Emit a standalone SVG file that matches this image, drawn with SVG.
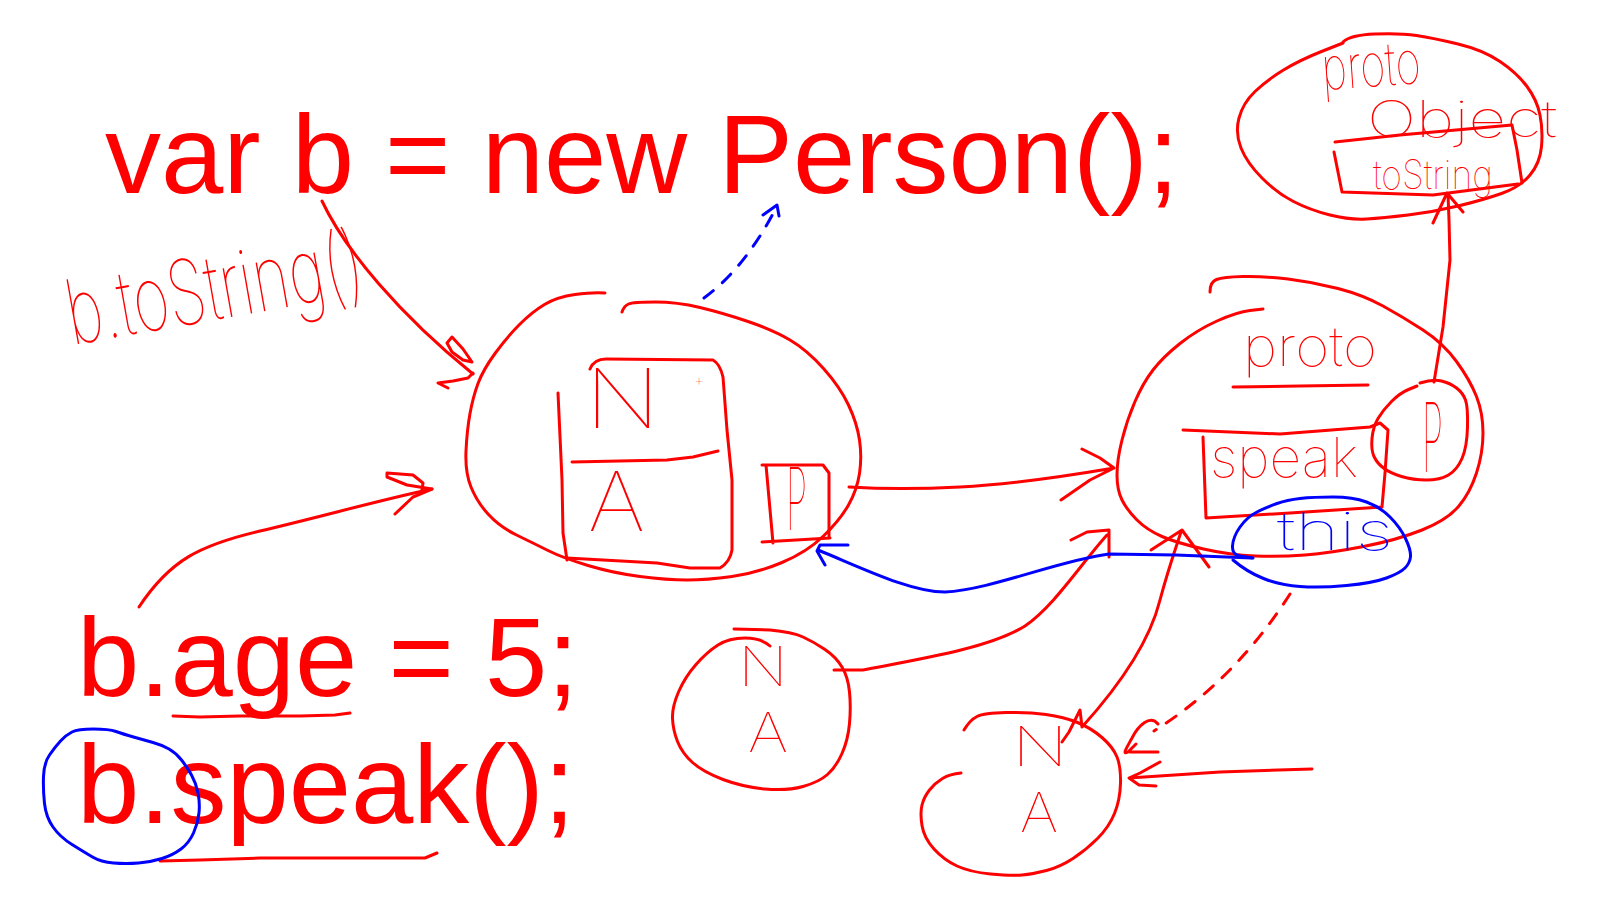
<svg xmlns="http://www.w3.org/2000/svg" width="1600" height="900" viewBox="0 0 1600 900">
<defs>
<style>
.code{font-family:"Liberation Sans",Arial,sans-serif;font-size:112px;fill:#ff0000}
.hw{font-family:Inter,"DejaVu Sans",sans-serif;font-weight:100;fill:#ff0000}
.hwb{fill:#0000ff}
.ink{fill:none;stroke:#ff0000;stroke-width:3;stroke-linecap:round;stroke-linejoin:round}
.bl{stroke:#0000ff}
.dash{stroke-dasharray:12 12}
</style>
</defs>
<rect width="1600" height="900" fill="#ffffff"/>

<g id="code-new">
<text class="code" x="105" y="193">var b = new Person();</text>
</g>
<g id="code-age">
<text class="code" x="77" y="696">b.age = 5;</text>
<path class="ink" d="M173,716 L200,717 L240,716 L300,716 L335,715 L350,713"/>
</g>
<g id="code-speak">
<text class="code" x="77" y="823">b.speak();</text>
<path class="ink" d="M160,861 L200,860 L260,858 L350,858 L425,858 L437,853"/>
<path class="ink bl" d="M93.5,729 Q109,729 116,731.5 Q123,734 133.5,737 Q144,740 153,742.5 Q162,745 169,749 Q176,753 181.5,760 Q187,767 191.5,775 Q196,783 198,793 Q200,803 199,813 Q198,823 193.5,833 Q189,843 181,849 Q173,855 162,858.5 Q151,862 138.5,863 Q126,864 113.5,863 Q101,862 92.5,857 Q84,852 72,844.5 Q60,837 53,827 Q46,817 44.5,803.5 Q43,790 43.5,776.5 Q44,763 49.5,755 Q55,747 60.5,741 Q66,735 72,732 Q78,729 93.5,729"/>
</g>

<g id="note-tostring">
<text class="hw" x="72" y="345" font-size="90" textLength="300" lengthAdjust="spacingAndGlyphs" transform="rotate(-10 72 345)">b.toString()</text>
</g>

<g id="obj-b">
<path class="ink" d="M605,293 Q593,292 575,294.5 Q557,297 544.5,304.5 Q532,312 519.5,324.5 Q507,337 495,353.5 Q483,370 478,383.5 Q473,397 470,413.5 Q467,430 466,451 Q465,472 471,487 Q477,502 488.5,514.5 Q500,527 516.5,535 Q533,543 548,550.5 Q563,558 588,565.5 Q613,573 640,576.5 Q667,580 687,580 Q707,580 732,576.5 Q757,573 782,562.5 Q807,552 823.5,536 Q840,520 848.5,505 Q857,490 859.5,473.5 Q862,457 859.5,440 Q857,423 848.5,405 Q840,387 823.5,368.5 Q807,350 790,340 Q773,330 748,321.5 Q723,313 700,307.5 Q677,302 655,302 Q633,302 628.5,304 Q624,306 622,312"/>
<path class="ink" d="M590,369 Q594,359 606,359 L713,360 Q720,364 723,377 L727,430 L732,480 L732,550 Q730,562 720,568 L690,568 L657,563 L567,558"/>
<path class="ink" d="M558,393 L562,480 L563,533 L567,560"/>
<path class="ink" d="M572,462 L667,460 L693,457 L718,451"/>
<text class="hw" x="585" y="428" font-size="82" textLength="75" lengthAdjust="spacingAndGlyphs">N</text>
<text class="hw" x="588" y="531" font-size="82" textLength="57" lengthAdjust="spacingAndGlyphs">A</text>
<text class="hw" x="699" y="386" font-size="16" text-anchor="middle">+</text>
<path class="ink" d="M762,465 L823,465 L829,473 L829,538 M766,465 L773,543 M762,542 L830,538"/>
<text class="hw" x="786" y="530" font-size="87" textLength="21" lengthAdjust="spacingAndGlyphs">P</text>
</g>

<g id="proto-person">
<path class="ink" d="M1263,309 L1250,310.5 Q1237,312 1217,321 Q1197,330 1180,343.5 Q1163,357 1153,370 Q1143,383 1135,401.5 Q1127,420 1122,440 Q1117,460 1117,475 Q1117,490 1122,500 Q1127,510 1137,520 Q1147,530 1162,536.5 Q1177,543 1203.5,549 Q1230,555 1255,556 Q1280,557 1305,555 Q1330,553 1363.5,546.5 Q1397,540 1422,530 Q1447,520 1458.5,506.5 Q1470,493 1476.5,473 Q1483,453 1483,433 Q1483,413 1476.5,396.5 Q1470,380 1456.5,361.5 Q1443,343 1423,330 Q1403,317 1383,306 Q1363,295 1338,288.5 Q1313,282 1288,279 Q1263,276 1243,276.5 Q1223,277 1216.5,279.5 Q1210,282 1210,292"/>
<text class="hw" x="1243" y="366" font-size="55" textLength="134" lengthAdjust="spacingAndGlyphs">proto</text>
<path class="ink" d="M1233,387 L1300,386 L1368,385"/>
<path class="ink" d="M1183,430 L1280,434 L1370,427 L1380,423 L1388,430 L1385,473 L1382,507 M1203,437 L1206,518 L1290,513 L1382,507"/>
<text class="hw" x="1210" y="477" font-size="55" textLength="148" lengthAdjust="spacingAndGlyphs">speak</text>
<path class="ink" d="M1417,386 L1408.5,389.5 Q1400,393 1391.5,401.5 Q1383,410 1378,418.5 Q1373,427 1372,438.5 Q1371,450 1374,456.5 Q1377,463 1383.5,468 Q1390,473 1401.5,476.5 Q1413,480 1426.5,480 Q1440,480 1448.5,475 Q1457,470 1462,458.5 Q1467,447 1467.5,427 Q1468,407 1465.5,400 Q1463,393 1456.5,388 Q1450,383 1441.5,381 Q1433,379 1420,383"/>
<text class="hw" x="1422" y="472" font-size="96" textLength="21" lengthAdjust="spacingAndGlyphs">P</text>
<path class="ink bl" d="M1253,558 L1240,556 Q1232,555 1232.5,546 Q1233,537 1240,527 Q1247,517 1257,512 Q1267,507 1277,503.5 Q1287,500 1300,498.5 Q1313,497 1333,497 Q1353,497 1366.5,502 Q1380,507 1390,517 Q1400,527 1405.5,538.5 Q1411,550 1410.5,556.5 Q1410,563 1405,568 Q1400,573 1386.5,578 Q1373,583 1346.5,585.5 Q1320,588 1300,586.5 Q1280,585 1263.5,578.5 Q1247,572 1233,560"/>
<text class="hw hwb" x="1277" y="550" font-size="52" textLength="116" lengthAdjust="spacingAndGlyphs">this</text>
</g>

<g id="proto-object">
<path class="ink" d="M1343,42 Q1350,35 1375,34 Q1400,33 1416.5,35.5 Q1433,38 1458,44 Q1483,50 1500,61.5 Q1517,73 1527,86.5 Q1537,100 1540,115 Q1543,130 1541.5,146.5 Q1540,163 1530,175 Q1520,187 1501.5,193.5 Q1483,200 1458,206 Q1433,212 1408,215 Q1383,218 1366.5,219 Q1350,220 1330,215 Q1310,210 1293.5,201.5 Q1277,193 1262,178 Q1247,163 1241,148 Q1235,133 1239,118 Q1243,103 1255,91.5 Q1267,80 1283.5,70 Q1300,60 1321.5,51.5 L1343,43"/>
<text class="hw" x="1323" y="90" font-size="60" textLength="99" lengthAdjust="spacingAndGlyphs" transform="rotate(-4 1323 90)">proto</text>
<text class="hw" x="1367" y="137" font-size="50" textLength="190" lengthAdjust="spacingAndGlyphs">Object</text>
<path class="ink" d="M1335,142 L1400,135 L1512,125 L1517,150 L1522,183 M1334,152 L1342,192 L1433,195 L1518,184"/>
<text class="hw" x="1373" y="189" font-size="40" textLength="120" lengthAdjust="spacingAndGlyphs">toString</text>
</g>

<g id="fn-1">
<path class="ink" d="M734,629 L770,630 Q792,632 803,637 Q814,642 825,649.5 Q836,657 842,667 Q848,677 849.5,692 Q851,707 849.5,723.5 Q848,740 842,753.5 Q836,767 827.5,774.5 Q819,782 803,786.5 Q787,791 765,789 Q743,787 723,779.5 Q703,772 692.5,762.5 Q682,753 677.5,741.5 Q673,730 672.5,718.5 Q672,707 678.5,692 Q685,677 696,664.5 Q707,652 718,645 Q729,638 745,638 Q761,638 770,646"/>
<text class="hw" x="738" y="686" font-size="54" textLength="50" lengthAdjust="spacingAndGlyphs">N</text>
<text class="hw" x="748" y="752" font-size="54" textLength="40" lengthAdjust="spacingAndGlyphs">A</text>
</g>

<g id="fn-2">
<path class="ink" d="M964,730 Q970,720 977,716.5 Q984,713 1006,712.5 Q1028,712 1046,714.5 Q1064,717 1077.5,722.5 Q1091,728 1102,737.5 Q1113,747 1117,757 Q1121,767 1120.5,783.5 Q1120,800 1114.5,813.5 Q1109,827 1097.5,838.5 Q1086,850 1073,858.5 Q1060,867 1046.5,870.5 Q1033,874 1022,875 Q1011,876 990.5,874 Q970,872 957,866 Q944,860 934,849 Q924,838 922,825.5 Q920,813 922,805 Q924,797 929.5,790 Q935,783 942.5,778.5 Q950,774 961,773"/>
<text class="hw" x="1012" y="766" font-size="54" textLength="56" lengthAdjust="spacingAndGlyphs">N</text>
<text class="hw" x="1020" y="832" font-size="54" textLength="38" lengthAdjust="spacingAndGlyphs">A</text>
</g>

<g id="connectors">
<path class="ink" d="M322,201 C345,250 400,315 473,374"/>
<path class="ink" d="M447,343 L452,337 L463,349 L472,362 L463,360 L452,352 L447,343 M473,373 L468,378 L453,381 L438,383 L448,388"/>
<path class="ink" d="M139,607 C170,560 200,545 260,531 S380,500 432,489"/>
<path class="ink" d="M422,490 L423,483 L413,475 L387,473 L387,477 L407,485 L432,489 L413,497 L395,514"/>
<path class="ink" d="M849,487 Q900,490 960,487 T1114,468 M1082,449 L1100,458 L1114,468 M1061,500 L1090,480 L1114,468"/>
<path class="ink" d="M1434,382 L1443,327 L1450,260 L1449,220 L1448,194 M1433,223 L1447,193 L1463,212"/>
<path class="ink" d="M834,670 L863,670 C920,659 990,648 1025,626 C1055,605 1080,565 1107,535 M1071,540 L1087,532 L1109,530 L1109,557"/>
<path class="ink" d="M1062,742 L1069,732 L1080,710 L1082,727 C1120,685 1150,640 1160,600 C1168,570 1175,550 1181,532 M1151,550 L1182,530 L1209,567"/>
<path class="ink" d="M1312,769 L1220,772 L1129,778 M1160,762 L1140,773 L1129,778 L1139,785 L1156,786"/>
<path class="ink bl" d="M1252,558 L1176,555 L1109,554 C1060,560 990,590 945,592 C910,592 860,567 818,550 M848,545 L820,545 L817,551 L825,565"/>
<path class="ink bl dash" d="M704,298 Q745,268 776,208"/>
<path class="ink bl" d="M763,215 L777,205 L779,216"/>
<path class="ink dash" d="M1290,594 Q1235,680 1154,731"/>
<path class="ink" d="M1158,724 C1150,714 1138,726 1132,738 C1126,749 1122,755 1128,752 L1136,744 M1130,752 L1158,752"/>
</g>
</svg>
